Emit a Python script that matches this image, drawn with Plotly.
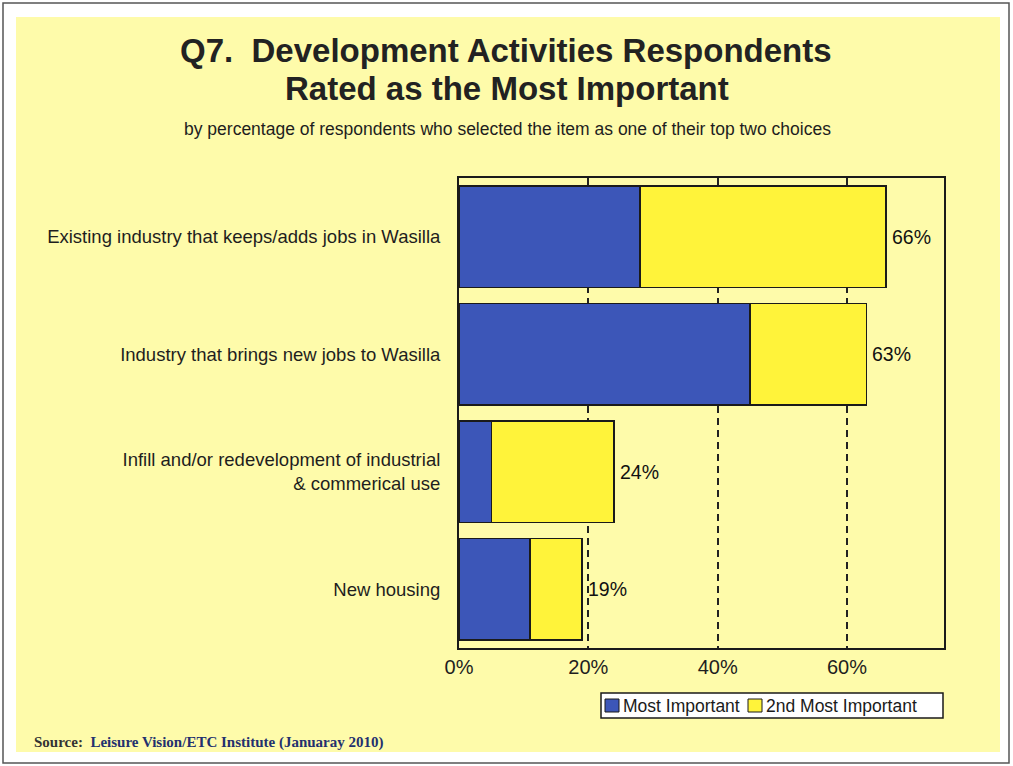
import plotly.graph_objects as go

# Survey results (percent of respondents)
categories = [
    "Existing industry that keeps/adds jobs in Wasilla",
    "Industry that brings new jobs to Wasilla",
    "Infill and/or redevelopment of industrial<br>& commerical use",
    "New housing",
]
most_important = [28, 45, 5, 11]
second_most = [38, 18, 19, 8]
totals = [a + b for a, b in zip(most_important, second_most)]
x_ticks = [0, 20, 40, 60]
x_tick_labels = ["0%", "20%", "40%", "60%"]
series_names = ["Most Important", "2nd Most Important"]

W, H = 1013, 766
L, R, T, B = 459, 69, 178, 118
PW, PH = W - L - R, H - T - B


def px(x):
    return (x - L) / PW


def py(y):
    return 1 - (y - T) / PH


BLUE = "#3C56B8"
YELLOW = "#FFF33A"
PANEL = "#FEFBAA"
INK = "#1a1a1a"
SANS = "Arial, Liberation Sans"

fig = go.Figure()
fig.add_trace(go.Bar(
    name=series_names[0], y=categories, x=most_important, orientation="h",
    marker=dict(color=BLUE, line=dict(color=INK, width=1.5)),
))
fig.add_trace(go.Bar(
    name=series_names[1], y=categories, x=second_most, orientation="h",
    marker=dict(color=YELLOW, line=dict(color=INK, width=1.5)),
))

annotations = []
for cat, tot in zip(categories, totals):
    annotations.append(dict(
        x=tot, y=cat, xref="x", yref="y", text=f"{tot}%", showarrow=False,
        xanchor="left", yanchor="middle", xshift=4,
        font=dict(family=SANS, size=19.5, color="#111"),
    ))

title_font = dict(family=SANS, size=33, color="#222")
annotations += [
    dict(x=px(506), y=py(50), xref="paper", yref="paper", showarrow=False,
         text="<b>Q7.  Development Activities Respondents</b>", font=title_font,
         xanchor="center", yanchor="middle"),
    dict(x=px(507), y=py(88), xref="paper", yref="paper", showarrow=False,
         text="<b>Rated as the Most Important</b>", font=title_font,
         xanchor="center", yanchor="middle"),
    dict(x=px(507), y=py(129), xref="paper", yref="paper", showarrow=False,
         text="by percentage of respondents who selected the item as one of their top two choices",
         font=dict(family=SANS, size=17.5, color="#1e1e1e"),
         xanchor="center", yanchor="middle"),
    dict(x=px(32), y=py(742), xref="paper", yref="paper", showarrow=False,
         text="<b>Source:  <span style='color:#23306e'>Leisure Vision/ETC Institute (Januaray 2010)</span></b>",
         font=dict(family="Liberation Serif, Times New Roman", size=15, color="#333"),
         xanchor="left", yanchor="middle"),
]

# Legend box drawn in page pixels
legend_items = [(series_names[0], BLUE, 605, 621), (series_names[1], YELLOW, 748, 764)]
shapes = [
    # page frame
    dict(type="rect", xref="paper", yref="paper", x0=px(3), x1=px(1009), y0=py(3), y1=py(763),
         line=dict(color="#555", width=1.5), fillcolor="white", layer="below"),
    # yellow panel
    dict(type="rect", xref="paper", yref="paper", x0=px(16), x1=px(1000), y0=py(17), y1=py(752),
         line=dict(width=0), fillcolor=PANEL, layer="below"),
    # legend frame
    dict(type="rect", xref="paper", yref="paper", x0=px(601), x1=px(943), y0=py(693), y1=py(718),
         line=dict(color=INK, width=1.5), fillcolor="white"),
]
for name, color, sx, tx in legend_items:
    shapes.append(dict(type="rect", xref="paper", yref="paper",
                       x0=px(sx), x1=px(sx + 14), y0=py(699), y1=py(712),
                       line=dict(color=INK, width=1), fillcolor=color))
    annotations.append(dict(x=px(tx), y=py(706), xref="paper", yref="paper", showarrow=False,
                            text=name, xanchor="left", yanchor="middle",
                            font=dict(family=SANS, size=17.5, color=INK)))

fig.update_layout(
    width=W, height=H,
    margin=dict(l=L, r=R, t=T, b=B),
    paper_bgcolor="white", plot_bgcolor="white",
    barmode="stack", bargap=0.14,
    showlegend=False,
    annotations=annotations,
    shapes=shapes,
    xaxis=dict(
        range=[0, 75], tickvals=x_ticks, ticktext=x_tick_labels,
        showgrid=True, gridcolor="#222", gridwidth=1.5, griddash="7px,5px",
        zeroline=False, showline=True, mirror=True, linecolor=INK, linewidth=2,
        ticks="", tickfont=dict(family=SANS, size=20, color="#1e1e1e"),
    ),
    yaxis=dict(
        categoryorder="array", categoryarray=categories, autorange="reversed",
        showgrid=False, zeroline=False, showline=True, mirror=True,
        linecolor=INK, linewidth=2, ticks="", ticklabelstandoff=13,
        tickfont=dict(family=SANS, size=18.5, color="#1e1e1e"),
    ),
)

fig.write_html("out.html")
